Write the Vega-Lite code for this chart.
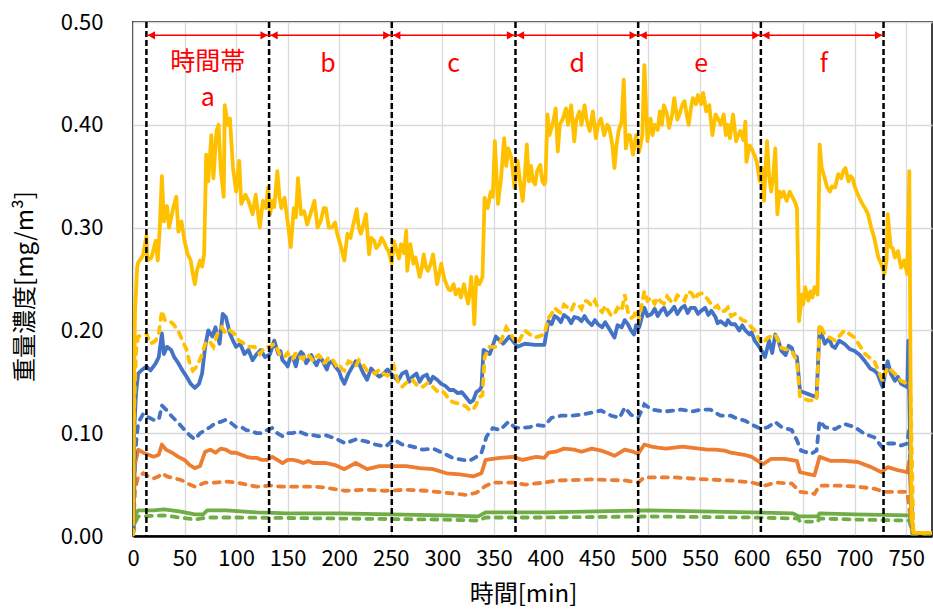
{
"$schema": "https://vega.github.io/schema/vega-lite/v6.json",
"width": 799, "height": 514,
"autosize": {"type": "none"},
"padding": {"left": 133, "top": 22, "right": 1, "bottom": 77},
"background": "white",
"config": {
  "view": {"stroke": "#404040", "strokeWidth": 2},
  "font": "Noto Sans CJK JP",
  "axis": {"labelFont": "Noto Sans CJK JP", "titleFont": "Noto Sans CJK JP", "labelColor": "#000000", "titleColor": "#000000", "gridColor": "#D9D9D9", "gridWidth": 1.3, "ticks": false, "domain": false}
},
"datasets": {
"bounds": [{"t": 13}, {"t": 132}, {"t": 251}, {"t": 371}, {"t": 490}, {"t": 609}, {"t": 728}],
"arrows": [{"x1": 13, "x2": 132, "y": 0.487}, {"x1": 132, "x2": 251, "y": 0.487}, {"x1": 251, "x2": 371, "y": 0.487}, {"x1": 371, "x2": 490, "y": 0.487}, {"x1": 490, "x2": 609, "y": 0.487}, {"x1": 609, "x2": 728, "y": 0.487}],
"labels": [{"lab": "時間帯", "t": 72.5, "y": 0.453}, {"lab": "a", "t": 72.5, "y": 0.418}, {"lab": "b", "t": 189, "y": 0.451}, {"lab": "c", "t": 311, "y": 0.451}, {"lab": "d", "t": 431, "y": 0.451}, {"lab": "e", "t": 551, "y": 0.451}, {"lab": "f", "t": 670, "y": 0.451}],
"lines": [
{"s":"ys","t":0,"v":0.01},{"s":"ys","t":1,"v":0.15},{"s":"ys","t":2,"v":0.22},{"s":"ys","t":4,"v":0.261},{"s":"ys","t":5,"v":0.266},{"s":"ys","t":8,"v":0.27},{"s":"ys","t":10,"v":0.274},{"s":"ys","t":13,"v":0.292},{"s":"ys","t":14,"v":0.268},{"s":"ys","t":18,"v":0.271},{"s":"ys","t":22,"v":0.287},{"s":"ys","t":24,"v":0.268},{"s":"ys","t":26,"v":0.3},{"s":"ys","t":28,"v":0.35},{"s":"ys","t":30,"v":0.306},{"s":"ys","t":33,"v":0.321},{"s":"ys","t":35,"v":0.3},{"s":"ys","t":39,"v":0.319},{"s":"ys","t":42,"v":0.33},{"s":"ys","t":44,"v":0.296},{"s":"ys","t":47,"v":0.306},{"s":"ys","t":50,"v":0.287},{"s":"ys","t":53,"v":0.274},{"s":"ys","t":56,"v":0.268},{"s":"ys","t":58,"v":0.255},{"s":"ys","t":60,"v":0.245},{"s":"ys","t":62,"v":0.258},{"s":"ys","t":65,"v":0.268},{"s":"ys","t":67,"v":0.262},{"s":"ys","t":69,"v":0.274},{"s":"ys","t":71,"v":0.371},{"s":"ys","t":73,"v":0.345},{"s":"ys","t":76,"v":0.39},{"s":"ys","t":78,"v":0.348},{"s":"ys","t":81,"v":0.394},{"s":"ys","t":83,"v":0.4},{"s":"ys","t":85,"v":0.358},{"s":"ys","t":88,"v":0.33},{"s":"ys","t":89,"v":0.419},{"s":"ys","t":92,"v":0.4},{"s":"ys","t":94,"v":0.406},{"s":"ys","t":97,"v":0.358},{"s":"ys","t":100,"v":0.335},{"s":"ys","t":103,"v":0.365},{"s":"ys","t":105,"v":0.323},{"s":"ys","t":109,"v":0.332},{"s":"ys","t":112,"v":0.326},{"s":"ys","t":116,"v":0.313},{"s":"ys","t":119,"v":0.332},{"s":"ys","t":123,"v":0.3},{"s":"ys","t":126,"v":0.326},{"s":"ys","t":129,"v":0.319},{"s":"ys","t":131,"v":0.339},{"s":"ys","t":133,"v":0.313},{"s":"ys","t":135,"v":0.326},{"s":"ys","t":137,"v":0.32},{"s":"ys","t":140,"v":0.355},{"s":"ys","t":142,"v":0.33},{"s":"ys","t":144,"v":0.319},{"s":"ys","t":147,"v":0.329},{"s":"ys","t":150,"v":0.306},{"s":"ys","t":153,"v":0.281},{"s":"ys","t":156,"v":0.319},{"s":"ys","t":158,"v":0.31},{"s":"ys","t":160,"v":0.348},{"s":"ys","t":163,"v":0.313},{"s":"ys","t":166,"v":0.316},{"s":"ys","t":169,"v":0.303},{"s":"ys","t":173,"v":0.316},{"s":"ys","t":176,"v":0.326},{"s":"ys","t":179,"v":0.3},{"s":"ys","t":182,"v":0.306},{"s":"ys","t":185,"v":0.319},{"s":"ys","t":187,"v":0.319},{"s":"ys","t":190,"v":0.3},{"s":"ys","t":193,"v":0.3},{"s":"ys","t":196,"v":0.305},{"s":"ys","t":198,"v":0.294},{"s":"ys","t":201,"v":0.284},{"s":"ys","t":205,"v":0.268},{"s":"ys","t":208,"v":0.294},{"s":"ys","t":211,"v":0.29},{"s":"ys","t":213,"v":0.3},{"s":"ys","t":217,"v":0.318},{"s":"ys","t":219,"v":0.3},{"s":"ys","t":221,"v":0.294},{"s":"ys","t":224,"v":0.305},{"s":"ys","t":226,"v":0.313},{"s":"ys","t":229,"v":0.274},{"s":"ys","t":231,"v":0.29},{"s":"ys","t":234,"v":0.287},{"s":"ys","t":236,"v":0.28},{"s":"ys","t":239,"v":0.284},{"s":"ys","t":241,"v":0.29},{"s":"ys","t":243,"v":0.287},{"s":"ys","t":246,"v":0.28},{"s":"ys","t":248,"v":0.277},{"s":"ys","t":251,"v":0.265},{"s":"ys","t":253,"v":0.287},{"s":"ys","t":256,"v":0.277},{"s":"ys","t":258,"v":0.27},{"s":"ys","t":260,"v":0.284},{"s":"ys","t":263,"v":0.275},{"s":"ys","t":265,"v":0.297},{"s":"ys","t":266,"v":0.258},{"s":"ys","t":269,"v":0.284},{"s":"ys","t":272,"v":0.265},{"s":"ys","t":274,"v":0.271},{"s":"ys","t":276,"v":0.262},{"s":"ys","t":278,"v":0.252},{"s":"ys","t":280,"v":0.26},{"s":"ys","t":282,"v":0.274},{"s":"ys","t":284,"v":0.262},{"s":"ys","t":286,"v":0.258},{"s":"ys","t":289,"v":0.265},{"s":"ys","t":291,"v":0.274},{"s":"ys","t":293,"v":0.26},{"s":"ys","t":295,"v":0.245},{"s":"ys","t":297,"v":0.255},{"s":"ys","t":299,"v":0.265},{"s":"ys","t":302,"v":0.25},{"s":"ys","t":304,"v":0.245},{"s":"ys","t":306,"v":0.24},{"s":"ys","t":308,"v":0.239},{"s":"ys","t":311,"v":0.245},{"s":"ys","t":313,"v":0.235},{"s":"ys","t":316,"v":0.24},{"s":"ys","t":318,"v":0.232},{"s":"ys","t":320,"v":0.24},{"s":"ys","t":321,"v":0.245},{"s":"ys","t":323,"v":0.235},{"s":"ys","t":325,"v":0.226},{"s":"ys","t":327,"v":0.24},{"s":"ys","t":328,"v":0.252},{"s":"ys","t":330,"v":0.23},{"s":"ys","t":331,"v":0.206},{"s":"ys","t":333,"v":0.252},{"s":"ys","t":336,"v":0.245},{"s":"ys","t":339,"v":0.252},{"s":"ys","t":341,"v":0.329},{"s":"ys","t":344,"v":0.319},{"s":"ys","t":347,"v":0.335},{"s":"ys","t":349,"v":0.33},{"s":"ys","t":351,"v":0.384},{"s":"ys","t":354,"v":0.323},{"s":"ys","t":357,"v":0.348},{"s":"ys","t":360,"v":0.387},{"s":"ys","t":362,"v":0.36},{"s":"ys","t":364,"v":0.377},{"s":"ys","t":367,"v":0.368},{"s":"ys","t":370,"v":0.339},{"s":"ys","t":373,"v":0.365},{"s":"ys","t":376,"v":0.34},{"s":"ys","t":378,"v":0.326},{"s":"ys","t":380,"v":0.35},{"s":"ys","t":382,"v":0.381},{"s":"ys","t":384,"v":0.345},{"s":"ys","t":386,"v":0.36},{"s":"ys","t":388,"v":0.345},{"s":"ys","t":390,"v":0.342},{"s":"ys","t":392,"v":0.355},{"s":"ys","t":395,"v":0.361},{"s":"ys","t":397,"v":0.345},{"s":"ys","t":399,"v":0.342},{"s":"ys","t":400,"v":0.345},{"s":"ys","t":402,"v":0.41},{"s":"ys","t":404,"v":0.39},{"s":"ys","t":406,"v":0.397},{"s":"ys","t":408,"v":0.405},{"s":"ys","t":410,"v":0.416},{"s":"ys","t":412,"v":0.374},{"s":"ys","t":414,"v":0.4},{"s":"ys","t":417,"v":0.406},{"s":"ys","t":420,"v":0.416},{"s":"ys","t":422,"v":0.4},{"s":"ys","t":425,"v":0.419},{"s":"ys","t":428,"v":0.384},{"s":"ys","t":430,"v":0.405},{"s":"ys","t":433,"v":0.413},{"s":"ys","t":435,"v":0.4},{"s":"ys","t":438,"v":0.419},{"s":"ys","t":440,"v":0.405},{"s":"ys","t":443,"v":0.394},{"s":"ys","t":446,"v":0.413},{"s":"ys","t":449,"v":0.387},{"s":"ys","t":451,"v":0.4},{"s":"ys","t":454,"v":0.406},{"s":"ys","t":457,"v":0.39},{"s":"ys","t":460,"v":0.4},{"s":"ys","t":462,"v":0.397},{"s":"ys","t":465,"v":0.38},{"s":"ys","t":467,"v":0.358},{"s":"ys","t":469,"v":0.38},{"s":"ys","t":471,"v":0.394},{"s":"ys","t":474,"v":0.403},{"s":"ys","t":476,"v":0.444},{"s":"ys","t":478,"v":0.377},{"s":"ys","t":480,"v":0.39},{"s":"ys","t":482,"v":0.39},{"s":"ys","t":485,"v":0.371},{"s":"ys","t":488,"v":0.39},{"s":"ys","t":491,"v":0.374},{"s":"ys","t":494,"v":0.39},{"s":"ys","t":496,"v":0.458},{"s":"ys","t":499,"v":0.384},{"s":"ys","t":502,"v":0.406},{"s":"ys","t":504,"v":0.39},{"s":"ys","t":506,"v":0.4},{"s":"ys","t":509,"v":0.395},{"s":"ys","t":511,"v":0.413},{"s":"ys","t":513,"v":0.4},{"s":"ys","t":515,"v":0.419},{"s":"ys","t":518,"v":0.41},{"s":"ys","t":520,"v":0.397},{"s":"ys","t":523,"v":0.41},{"s":"ys","t":525,"v":0.426},{"s":"ys","t":528,"v":0.405},{"s":"ys","t":530,"v":0.41},{"s":"ys","t":533,"v":0.42},{"s":"ys","t":535,"v":0.423},{"s":"ys","t":537,"v":0.41},{"s":"ys","t":539,"v":0.4},{"s":"ys","t":541,"v":0.415},{"s":"ys","t":543,"v":0.426},{"s":"ys","t":546,"v":0.42},{"s":"ys","t":548,"v":0.429},{"s":"ys","t":551,"v":0.42},{"s":"ys","t":553,"v":0.431},{"s":"ys","t":556,"v":0.413},{"s":"ys","t":559,"v":0.419},{"s":"ys","t":562,"v":0.39},{"s":"ys","t":565,"v":0.41},{"s":"ys","t":568,"v":0.405},{"s":"ys","t":570,"v":0.4},{"s":"ys","t":573,"v":0.41},{"s":"ys","t":575,"v":0.39},{"s":"ys","t":577,"v":0.4},{"s":"ys","t":579,"v":0.387},{"s":"ys","t":582,"v":0.41},{"s":"ys","t":585,"v":0.384},{"s":"ys","t":587,"v":0.39},{"s":"ys","t":589,"v":0.394},{"s":"ys","t":592,"v":0.385},{"s":"ys","t":594,"v":0.403},{"s":"ys","t":595,"v":0.364},{"s":"ys","t":598,"v":0.38},{"s":"ys","t":600,"v":0.377},{"s":"ys","t":603,"v":0.37},{"s":"ys","t":605,"v":0.364},{"s":"ys","t":608,"v":0.345},{"s":"ys","t":610,"v":0.358},{"s":"ys","t":612,"v":0.326},{"s":"ys","t":615,"v":0.384},{"s":"ys","t":617,"v":0.35},{"s":"ys","t":619,"v":0.335},{"s":"ys","t":621,"v":0.35},{"s":"ys","t":623,"v":0.377},{"s":"ys","t":625,"v":0.313},{"s":"ys","t":627,"v":0.335},{"s":"ys","t":629,"v":0.33},{"s":"ys","t":631,"v":0.335},{"s":"ys","t":634,"v":0.326},{"s":"ys","t":637,"v":0.335},{"s":"ys","t":640,"v":0.329},{"s":"ys","t":642,"v":0.325},{"s":"ys","t":644,"v":0.319},{"s":"ys","t":646,"v":0.209},{"s":"ys","t":649,"v":0.235},{"s":"ys","t":650,"v":0.225},{"s":"ys","t":652,"v":0.242},{"s":"ys","t":655,"v":0.229},{"s":"ys","t":657,"v":0.238},{"s":"ys","t":659,"v":0.232},{"s":"ys","t":661,"v":0.242},{"s":"ys","t":664,"v":0.235},{"s":"ys","t":666,"v":0.381},{"s":"ys","t":668,"v":0.358},{"s":"ys","t":671,"v":0.348},{"s":"ys","t":673,"v":0.34},{"s":"ys","t":676,"v":0.335},{"s":"ys","t":678,"v":0.34},{"s":"ys","t":681,"v":0.339},{"s":"ys","t":684,"v":0.352},{"s":"ys","t":687,"v":0.348},{"s":"ys","t":689,"v":0.355},{"s":"ys","t":691,"v":0.358},{"s":"ys","t":694,"v":0.345},{"s":"ys","t":696,"v":0.35},{"s":"ys","t":698,"v":0.348},{"s":"ys","t":700,"v":0.34},{"s":"ys","t":702,"v":0.335},{"s":"ys","t":704,"v":0.33},{"s":"ys","t":706,"v":0.326},{"s":"ys","t":708,"v":0.322},{"s":"ys","t":710,"v":0.319},{"s":"ys","t":713,"v":0.313},{"s":"ys","t":716,"v":0.3},{"s":"ys","t":719,"v":0.29},{"s":"ys","t":721,"v":0.28},{"s":"ys","t":723,"v":0.271},{"s":"ys","t":726,"v":0.264},{"s":"ys","t":729,"v":0.255},{"s":"ys","t":731,"v":0.27},{"s":"ys","t":732,"v":0.313},{"s":"ys","t":735,"v":0.281},{"s":"ys","t":737,"v":0.28},{"s":"ys","t":739,"v":0.271},{"s":"ys","t":742,"v":0.277},{"s":"ys","t":745,"v":0.261},{"s":"ys","t":748,"v":0.268},{"s":"ys","t":751,"v":0.255},{"s":"ys","t":753,"v":0.355},{"s":"ys","t":755,"v":0.02},{"s":"ys","t":757,"v":0.003},{"s":"ys","t":775,"v":0.003},
{"s":"yd","t":0,"v":0.0},{"s":"yd","t":1,"v":0.12},{"s":"yd","t":3,"v":0.18},{"s":"yd","t":5,"v":0.194},{"s":"yd","t":8,"v":0.195},{"s":"yd","t":13,"v":0.197},{"s":"yd","t":17,"v":0.187},{"s":"yd","t":22,"v":0.19},{"s":"yd","t":25,"v":0.197},{"s":"yd","t":28,"v":0.219},{"s":"yd","t":31,"v":0.21},{"s":"yd","t":35,"v":0.21},{"s":"yd","t":40,"v":0.205},{"s":"yd","t":45,"v":0.197},{"s":"yd","t":48,"v":0.19},{"s":"yd","t":52,"v":0.181},{"s":"yd","t":55,"v":0.168},{"s":"yd","t":58,"v":0.161},{"s":"yd","t":62,"v":0.165},{"s":"yd","t":66,"v":0.174},{"s":"yd","t":70,"v":0.187},{"s":"yd","t":74,"v":0.19},{"s":"yd","t":78,"v":0.184},{"s":"yd","t":82,"v":0.197},{"s":"yd","t":86,"v":0.203},{"s":"yd","t":90,"v":0.197},{"s":"yd","t":94,"v":0.2},{"s":"yd","t":98,"v":0.197},{"s":"yd","t":103,"v":0.19},{"s":"yd","t":108,"v":0.187},{"s":"yd","t":113,"v":0.184},{"s":"yd","t":118,"v":0.184},{"s":"yd","t":123,"v":0.177},{"s":"yd","t":128,"v":0.184},{"s":"yd","t":133,"v":0.184},{"s":"yd","t":137,"v":0.187},{"s":"yd","t":142,"v":0.177},{"s":"yd","t":147,"v":0.174},{"s":"yd","t":152,"v":0.174},{"s":"yd","t":157,"v":0.177},{"s":"yd","t":162,"v":0.174},{"s":"yd","t":167,"v":0.177},{"s":"yd","t":172,"v":0.174},{"s":"yd","t":177,"v":0.174},{"s":"yd","t":182,"v":0.174},{"s":"yd","t":188,"v":0.171},{"s":"yd","t":194,"v":0.171},{"s":"yd","t":200,"v":0.168},{"s":"yd","t":205,"v":0.161},{"s":"yd","t":213,"v":0.168},{"s":"yd","t":219,"v":0.171},{"s":"yd","t":227,"v":0.161},{"s":"yd","t":235,"v":0.158},{"s":"yd","t":243,"v":0.158},{"s":"yd","t":253,"v":0.165},{"s":"yd","t":257,"v":0.15},{"s":"yd","t":261,"v":0.145},{"s":"yd","t":271,"v":0.152},{"s":"yd","t":281,"v":0.145},{"s":"yd","t":291,"v":0.145},{"s":"yd","t":299,"v":0.142},{"s":"yd","t":307,"v":0.132},{"s":"yd","t":315,"v":0.129},{"s":"yd","t":323,"v":0.126},{"s":"yd","t":330,"v":0.123},{"s":"yd","t":336,"v":0.135},{"s":"yd","t":339,"v":0.137},{"s":"yd","t":341,"v":0.174},{"s":"yd","t":346,"v":0.184},{"s":"yd","t":352,"v":0.184},{"s":"yd","t":357,"v":0.19},{"s":"yd","t":362,"v":0.203},{"s":"yd","t":368,"v":0.194},{"s":"yd","t":373,"v":0.187},{"s":"yd","t":380,"v":0.2},{"s":"yd","t":385,"v":0.196},{"s":"yd","t":390,"v":0.193},{"s":"yd","t":399,"v":0.196},{"s":"yd","t":403,"v":0.212},{"s":"yd","t":412,"v":0.219},{"s":"yd","t":422,"v":0.222},{"s":"yd","t":432,"v":0.225},{"s":"yd","t":441,"v":0.228},{"s":"yd","t":451,"v":0.222},{"s":"yd","t":461,"v":0.219},{"s":"yd","t":467,"v":0.216},{"s":"yd","t":474,"v":0.219},{"s":"yd","t":477,"v":0.235},{"s":"yd","t":483,"v":0.212},{"s":"yd","t":491,"v":0.212},{"s":"yd","t":496,"v":0.238},{"s":"yd","t":503,"v":0.232},{"s":"yd","t":512,"v":0.228},{"s":"yd","t":522,"v":0.228},{"s":"yd","t":532,"v":0.232},{"s":"yd","t":538,"v":0.238},{"s":"yd","t":548,"v":0.235},{"s":"yd","t":556,"v":0.232},{"s":"yd","t":564,"v":0.222},{"s":"yd","t":574,"v":0.219},{"s":"yd","t":584,"v":0.216},{"s":"yd","t":594,"v":0.209},{"s":"yd","t":603,"v":0.2},{"s":"yd","t":610,"v":0.187},{"s":"yd","t":616,"v":0.193},{"s":"yd","t":623,"v":0.196},{"s":"yd","t":629,"v":0.183},{"s":"yd","t":639,"v":0.18},{"s":"yd","t":644,"v":0.17},{"s":"yd","t":647,"v":0.135},{"s":"yd","t":655,"v":0.132},{"s":"yd","t":663,"v":0.132},{"s":"yd","t":666,"v":0.206},{"s":"yd","t":671,"v":0.196},{"s":"yd","t":681,"v":0.19},{"s":"yd","t":690,"v":0.2},{"s":"yd","t":700,"v":0.193},{"s":"yd","t":710,"v":0.177},{"s":"yd","t":719,"v":0.17},{"s":"yd","t":727,"v":0.151},{"s":"yd","t":732,"v":0.164},{"s":"yd","t":739,"v":0.158},{"s":"yd","t":745,"v":0.151},{"s":"yd","t":751,"v":0.148},{"s":"yd","t":754,"v":0.15},{"s":"yd","t":757,"v":0.003},{"s":"yd","t":775,"v":0.003},
{"s":"yd","t":140,"v":0.182},{"s":"yd","t":145,"v":0.176},{"s":"yd","t":150,"v":0.178},{"s":"yd","t":155,"v":0.172},{"s":"yd","t":160,"v":0.178},{"s":"yd","t":165,"v":0.172},{"s":"yd","t":170,"v":0.176},{"s":"yd","t":175,"v":0.17},{"s":"yd","t":180,"v":0.176},{"s":"yd","t":185,"v":0.168},{"s":"yd","t":190,"v":0.174},{"s":"yd","t":197,"v":0.166},{"s":"yd","t":202,"v":0.163},{"s":"yd","t":209,"v":0.17},{"s":"yd","t":216,"v":0.165},{"s":"yd","t":223,"v":0.167},{"s":"yd","t":231,"v":0.16},{"s":"yd","t":239,"v":0.162},{"s":"yd","t":247,"v":0.156},{"s":"yd","t":250,"v":0.16},{"s":"yd","t":259,"v":0.148},{"s":"yd","t":266,"v":0.15},{"s":"yd","t":276,"v":0.146},{"s":"yd","t":286,"v":0.149},{"s":"yd","t":295,"v":0.141},{"s":"yd","t":303,"v":0.138},{"s":"yd","t":311,"v":0.13},{"s":"yd","t":319,"v":0.128},{"s":"yd","t":327,"v":0.122},{"s":"yd","t":333,"v":0.128},
{"s":"yd","t":406,"v":0.216},{"s":"yd","t":409,"v":0.222},{"s":"yd","t":415,"v":0.217},{"s":"yd","t":418,"v":0.225},{"s":"yd","t":425,"v":0.219},{"s":"yd","t":428,"v":0.226},{"s":"yd","t":435,"v":0.221},{"s":"yd","t":438,"v":0.229},{"s":"yd","t":445,"v":0.224},{"s":"yd","t":448,"v":0.229},{"s":"yd","t":455,"v":0.218},{"s":"yd","t":458,"v":0.224},{"s":"yd","t":464,"v":0.214},{"s":"yd","t":470,"v":0.222},{"s":"yd","t":480,"v":0.218},{"s":"yd","t":486,"v":0.214},{"s":"yd","t":488,"v":0.22},{"s":"yd","t":499,"v":0.229},{"s":"yd","t":506,"v":0.226},{"s":"yd","t":509,"v":0.232},{"s":"yd","t":515,"v":0.226},{"s":"yd","t":518,"v":0.233},{"s":"yd","t":525,"v":0.227},{"s":"yd","t":528,"v":0.234},{"s":"yd","t":535,"v":0.229},{"s":"yd","t":542,"v":0.236},{"s":"yd","t":545,"v":0.23},{"s":"yd","t":552,"v":0.236},{"s":"yd","t":559,"v":0.228},{"s":"yd","t":561,"v":0.225},{"s":"yd","t":567,"v":0.224},{"s":"yd","t":570,"v":0.218},{"s":"yd","t":577,"v":0.222},{"s":"yd","t":580,"v":0.214},{"s":"yd","t":588,"v":0.213},{"s":"yd","t":591,"v":0.21},{"s":"yd","t":598,"v":0.205},{"s":"yd","t":600,"v":0.203},{"s":"yd","t":606,"v":0.194},
{"s":"bs","t":0,"v":0.0},{"s":"bs","t":1,"v":0.1},{"s":"bs","t":3,"v":0.14},{"s":"bs","t":5,"v":0.158},{"s":"bs","t":8,"v":0.161},{"s":"bs","t":13,"v":0.165},{"s":"bs","t":17,"v":0.161},{"s":"bs","t":22,"v":0.168},{"s":"bs","t":25,"v":0.174},{"s":"bs","t":28,"v":0.197},{"s":"bs","t":30,"v":0.177},{"s":"bs","t":33,"v":0.184},{"s":"bs","t":37,"v":0.181},{"s":"bs","t":40,"v":0.174},{"s":"bs","t":44,"v":0.168},{"s":"bs","t":48,"v":0.161},{"s":"bs","t":52,"v":0.155},{"s":"bs","t":56,"v":0.148},{"s":"bs","t":60,"v":0.144},{"s":"bs","t":64,"v":0.148},{"s":"bs","t":67,"v":0.158},{"s":"bs","t":70,"v":0.184},{"s":"bs","t":73,"v":0.2},{"s":"bs","t":77,"v":0.194},{"s":"bs","t":80,"v":0.203},{"s":"bs","t":84,"v":0.187},{"s":"bs","t":87,"v":0.216},{"s":"bs","t":90,"v":0.213},{"s":"bs","t":94,"v":0.197},{"s":"bs","t":97,"v":0.19},{"s":"bs","t":100,"v":0.184},{"s":"bs","t":104,"v":0.187},{"s":"bs","t":108,"v":0.177},{"s":"bs","t":112,"v":0.181},{"s":"bs","t":116,"v":0.171},{"s":"bs","t":120,"v":0.177},{"s":"bs","t":124,"v":0.181},{"s":"bs","t":128,"v":0.174},{"s":"bs","t":133,"v":0.177},{"s":"bs","t":137,"v":0.19},{"s":"bs","t":141,"v":0.177},{"s":"bs","t":145,"v":0.171},{"s":"bs","t":150,"v":0.165},{"s":"bs","t":155,"v":0.174},{"s":"bs","t":160,"v":0.174},{"s":"bs","t":165,"v":0.177},{"s":"bs","t":170,"v":0.171},{"s":"bs","t":175,"v":0.171},{"s":"bs","t":180,"v":0.171},{"s":"bs","t":185,"v":0.168},{"s":"bs","t":190,"v":0.168},{"s":"bs","t":196,"v":0.165},{"s":"bs","t":205,"v":0.148},{"s":"bs","t":213,"v":0.165},{"s":"bs","t":219,"v":0.168},{"s":"bs","t":227,"v":0.152},{"s":"bs","t":235,"v":0.158},{"s":"bs","t":243,"v":0.158},{"s":"bs","t":253,"v":0.155},{"s":"bs","t":261,"v":0.158},{"s":"bs","t":271,"v":0.155},{"s":"bs","t":281,"v":0.155},{"s":"bs","t":291,"v":0.155},{"s":"bs","t":299,"v":0.148},{"s":"bs","t":307,"v":0.142},{"s":"bs","t":315,"v":0.139},{"s":"bs","t":323,"v":0.135},{"s":"bs","t":330,"v":0.132},{"s":"bs","t":336,"v":0.142},{"s":"bs","t":338,"v":0.145},{"s":"bs","t":340,"v":0.181},{"s":"bs","t":346,"v":0.177},{"s":"bs","t":352,"v":0.194},{"s":"bs","t":359,"v":0.187},{"s":"bs","t":365,"v":0.194},{"s":"bs","t":373,"v":0.184},{"s":"bs","t":380,"v":0.187},{"s":"bs","t":390,"v":0.186},{"s":"bs","t":399,"v":0.186},{"s":"bs","t":403,"v":0.209},{"s":"bs","t":412,"v":0.212},{"s":"bs","t":422,"v":0.212},{"s":"bs","t":432,"v":0.212},{"s":"bs","t":441,"v":0.209},{"s":"bs","t":451,"v":0.206},{"s":"bs","t":461,"v":0.203},{"s":"bs","t":467,"v":0.193},{"s":"bs","t":474,"v":0.203},{"s":"bs","t":480,"v":0.206},{"s":"bs","t":486,"v":0.196},{"s":"bs","t":491,"v":0.203},{"s":"bs","t":496,"v":0.222},{"s":"bs","t":503,"v":0.216},{"s":"bs","t":512,"v":0.219},{"s":"bs","t":522,"v":0.219},{"s":"bs","t":532,"v":0.222},{"s":"bs","t":541,"v":0.222},{"s":"bs","t":551,"v":0.219},{"s":"bs","t":561,"v":0.219},{"s":"bs","t":570,"v":0.209},{"s":"bs","t":580,"v":0.206},{"s":"bs","t":584,"v":0.206},{"s":"bs","t":594,"v":0.2},{"s":"bs","t":603,"v":0.19},{"s":"bs","t":610,"v":0.18},{"s":"bs","t":613,"v":0.174},{"s":"bs","t":623,"v":0.196},{"s":"bs","t":629,"v":0.18},{"s":"bs","t":639,"v":0.183},{"s":"bs","t":644,"v":0.174},{"s":"bs","t":647,"v":0.141},{"s":"bs","t":655,"v":0.138},{"s":"bs","t":663,"v":0.135},{"s":"bs","t":666,"v":0.203},{"s":"bs","t":671,"v":0.187},{"s":"bs","t":681,"v":0.183},{"s":"bs","t":690,"v":0.187},{"s":"bs","t":700,"v":0.18},{"s":"bs","t":710,"v":0.17},{"s":"bs","t":719,"v":0.161},{"s":"bs","t":727,"v":0.145},{"s":"bs","t":732,"v":0.17},{"s":"bs","t":739,"v":0.151},{"s":"bs","t":745,"v":0.148},{"s":"bs","t":751,"v":0.145},{"s":"bs","t":752,"v":0.19},{"s":"bs","t":755,"v":0.022},{"s":"bs","t":757,"v":0.003},{"s":"bs","t":775,"v":0.003},
{"s":"bs","t":143,"v":0.18},{"s":"bs","t":148,"v":0.168},{"s":"bs","t":152,"v":0.172},{"s":"bs","t":158,"v":0.165},{"s":"bs","t":163,"v":0.179},{"s":"bs","t":168,"v":0.168},{"s":"bs","t":173,"v":0.176},{"s":"bs","t":178,"v":0.166},{"s":"bs","t":183,"v":0.172},{"s":"bs","t":188,"v":0.162},{"s":"bs","t":193,"v":0.17},{"s":"bs","t":200,"v":0.16},{"s":"bs","t":202,"v":0.154},{"s":"bs","t":209,"v":0.158},{"s":"bs","t":216,"v":0.17},{"s":"bs","t":223,"v":0.159},{"s":"bs","t":231,"v":0.163},{"s":"bs","t":239,"v":0.155},{"s":"bs","t":247,"v":0.162},{"s":"bs","t":250,"v":0.158},{"s":"bs","t":257,"v":0.151},{"s":"bs","t":265,"v":0.16},{"s":"bs","t":268,"v":0.15},{"s":"bs","t":275,"v":0.158},{"s":"bs","t":278,"v":0.15},{"s":"bs","t":285,"v":0.157},{"s":"bs","t":288,"v":0.149},{"s":"bs","t":295,"v":0.152},{"s":"bs","t":303,"v":0.146},{"s":"bs","t":311,"v":0.142},{"s":"bs","t":319,"v":0.14},{"s":"bs","t":327,"v":0.13},{"s":"bs","t":333,"v":0.14},
{"s":"bs","t":406,"v":0.206},{"s":"bs","t":409,"v":0.214},{"s":"bs","t":415,"v":0.208},{"s":"bs","t":418,"v":0.215},{"s":"bs","t":425,"v":0.207},{"s":"bs","t":428,"v":0.213},{"s":"bs","t":435,"v":0.209},{"s":"bs","t":438,"v":0.214},{"s":"bs","t":445,"v":0.205},{"s":"bs","t":448,"v":0.21},{"s":"bs","t":455,"v":0.203},{"s":"bs","t":458,"v":0.208},{"s":"bs","t":464,"v":0.198},{"s":"bs","t":470,"v":0.205},{"s":"bs","t":477,"v":0.21},{"s":"bs","t":483,"v":0.2},{"s":"bs","t":488,"v":0.205},{"s":"bs","t":499,"v":0.214},{"s":"bs","t":506,"v":0.221},{"s":"bs","t":509,"v":0.214},{"s":"bs","t":515,"v":0.222},{"s":"bs","t":518,"v":0.215},{"s":"bs","t":525,"v":0.223},{"s":"bs","t":528,"v":0.216},{"s":"bs","t":535,"v":0.224},{"s":"bs","t":538,"v":0.217},{"s":"bs","t":545,"v":0.222},{"s":"bs","t":548,"v":0.216},{"s":"bs","t":555,"v":0.222},{"s":"bs","t":558,"v":0.215},{"s":"bs","t":565,"v":0.213},{"s":"bs","t":567,"v":0.207},{"s":"bs","t":575,"v":0.205},{"s":"bs","t":577,"v":0.21},{"s":"bs","t":588,"v":0.2},{"s":"bs","t":591,"v":0.205},{"s":"bs","t":598,"v":0.196},{"s":"bs","t":600,"v":0.198},{"s":"bs","t":606,"v":0.186},
{"s":"bs","t":617,"v":0.19},{"s":"bs","t":620,"v":0.178},{"s":"bs","t":626,"v":0.19},{"s":"bs","t":633,"v":0.176},{"s":"bs","t":636,"v":0.185},{"s":"bs","t":641,"v":0.176},{"s":"bs","t":675,"v":0.192},{"s":"bs","t":678,"v":0.185},{"s":"bs","t":685,"v":0.19},{"s":"bs","t":695,"v":0.182},{"s":"bs","t":705,"v":0.176},{"s":"bs","t":715,"v":0.163},{"s":"bs","t":722,"v":0.158},{"s":"bs","t":735,"v":0.158},{"s":"bs","t":742,"v":0.155},
{"s":"bd","t":0,"v":0.0},{"s":"bd","t":2,"v":0.08},{"s":"bd","t":5,"v":0.11},{"s":"bd","t":10,"v":0.119},{"s":"bd","t":14,"v":0.116},{"s":"bd","t":20,"v":0.113},{"s":"bd","t":25,"v":0.113},{"s":"bd","t":28,"v":0.127},{"s":"bd","t":32,"v":0.123},{"s":"bd","t":38,"v":0.116},{"s":"bd","t":44,"v":0.11},{"s":"bd","t":50,"v":0.103},{"s":"bd","t":55,"v":0.098},{"s":"bd","t":60,"v":0.094},{"s":"bd","t":65,"v":0.1},{"s":"bd","t":70,"v":0.103},{"s":"bd","t":75,"v":0.106},{"s":"bd","t":80,"v":0.11},{"s":"bd","t":85,"v":0.111},{"s":"bd","t":90,"v":0.113},{"s":"bd","t":95,"v":0.11},{"s":"bd","t":100,"v":0.106},{"s":"bd","t":105,"v":0.106},{"s":"bd","t":110,"v":0.103},{"s":"bd","t":115,"v":0.102},{"s":"bd","t":120,"v":0.1},{"s":"bd","t":125,"v":0.1},{"s":"bd","t":130,"v":0.103},{"s":"bd","t":135,"v":0.105},{"s":"bd","t":140,"v":0.1},{"s":"bd","t":145,"v":0.097},{"s":"bd","t":150,"v":0.1},{"s":"bd","t":155,"v":0.1},{"s":"bd","t":160,"v":0.102},{"s":"bd","t":165,"v":0.1},{"s":"bd","t":170,"v":0.098},{"s":"bd","t":175,"v":0.098},{"s":"bd","t":180,"v":0.097},{"s":"bd","t":187,"v":0.098},{"s":"bd","t":196,"v":0.095},{"s":"bd","t":206,"v":0.09},{"s":"bd","t":216,"v":0.094},{"s":"bd","t":226,"v":0.092},{"s":"bd","t":235,"v":0.089},{"s":"bd","t":245,"v":0.087},{"s":"bd","t":253,"v":0.094},{"s":"bd","t":261,"v":0.089},{"s":"bd","t":271,"v":0.087},{"s":"bd","t":281,"v":0.084},{"s":"bd","t":291,"v":0.085},{"s":"bd","t":300,"v":0.081},{"s":"bd","t":310,"v":0.076},{"s":"bd","t":320,"v":0.074},{"s":"bd","t":326,"v":0.073},{"s":"bd","t":333,"v":0.077},{"s":"bd","t":338,"v":0.081},{"s":"bd","t":343,"v":0.097},{"s":"bd","t":349,"v":0.105},{"s":"bd","t":356,"v":0.103},{"s":"bd","t":364,"v":0.111},{"s":"bd","t":370,"v":0.106},{"s":"bd","t":375,"v":0.105},{"s":"bd","t":385,"v":0.106},{"s":"bd","t":391,"v":0.108},{"s":"bd","t":399,"v":0.107},{"s":"bd","t":406,"v":0.115},{"s":"bd","t":415,"v":0.117},{"s":"bd","t":425,"v":0.117},{"s":"bd","t":435,"v":0.118},{"s":"bd","t":445,"v":0.12},{"s":"bd","t":454,"v":0.122},{"s":"bd","t":464,"v":0.117},{"s":"bd","t":472,"v":0.115},{"s":"bd","t":477,"v":0.125},{"s":"bd","t":483,"v":0.118},{"s":"bd","t":490,"v":0.115},{"s":"bd","t":496,"v":0.128},{"s":"bd","t":503,"v":0.123},{"s":"bd","t":515,"v":0.121},{"s":"bd","t":532,"v":0.123},{"s":"bd","t":542,"v":0.121},{"s":"bd","t":551,"v":0.123},{"s":"bd","t":560,"v":0.123},{"s":"bd","t":570,"v":0.117},{"s":"bd","t":580,"v":0.117},{"s":"bd","t":584,"v":0.115},{"s":"bd","t":594,"v":0.112},{"s":"bd","t":603,"v":0.107},{"s":"bd","t":610,"v":0.104},{"s":"bd","t":616,"v":0.106},{"s":"bd","t":623,"v":0.111},{"s":"bd","t":629,"v":0.106},{"s":"bd","t":639,"v":0.103},{"s":"bd","t":644,"v":0.093},{"s":"bd","t":648,"v":0.083},{"s":"bd","t":658,"v":0.08},{"s":"bd","t":663,"v":0.083},{"s":"bd","t":666,"v":0.112},{"s":"bd","t":671,"v":0.106},{"s":"bd","t":681,"v":0.104},{"s":"bd","t":690,"v":0.109},{"s":"bd","t":700,"v":0.106},{"s":"bd","t":710,"v":0.099},{"s":"bd","t":719,"v":0.096},{"s":"bd","t":727,"v":0.086},{"s":"bd","t":732,"v":0.09},{"s":"bd","t":739,"v":0.09},{"s":"bd","t":745,"v":0.088},{"s":"bd","t":751,"v":0.09},{"s":"bd","t":753,"v":0.106},{"s":"bd","t":756,"v":0.003},{"s":"bd","t":775,"v":0.003},
{"s":"os","t":0,"v":0.0},{"s":"os","t":2,"v":0.07},{"s":"os","t":5,"v":0.084},{"s":"os","t":10,"v":0.081},{"s":"os","t":15,"v":0.079},{"s":"os","t":20,"v":0.077},{"s":"os","t":25,"v":0.079},{"s":"os","t":28,"v":0.089},{"s":"os","t":32,"v":0.084},{"s":"os","t":38,"v":0.081},{"s":"os","t":44,"v":0.077},{"s":"os","t":50,"v":0.074},{"s":"os","t":55,"v":0.069},{"s":"os","t":60,"v":0.066},{"s":"os","t":65,"v":0.068},{"s":"os","t":70,"v":0.082},{"s":"os","t":75,"v":0.084},{"s":"os","t":80,"v":0.081},{"s":"os","t":85,"v":0.085},{"s":"os","t":90,"v":0.084},{"s":"os","t":95,"v":0.081},{"s":"os","t":100,"v":0.081},{"s":"os","t":105,"v":0.079},{"s":"os","t":110,"v":0.077},{"s":"os","t":115,"v":0.076},{"s":"os","t":120,"v":0.076},{"s":"os","t":125,"v":0.074},{"s":"os","t":130,"v":0.074},{"s":"os","t":135,"v":0.077},{"s":"os","t":140,"v":0.074},{"s":"os","t":145,"v":0.071},{"s":"os","t":150,"v":0.074},{"s":"os","t":155,"v":0.074},{"s":"os","t":160,"v":0.073},{"s":"os","t":165,"v":0.071},{"s":"os","t":170,"v":0.073},{"s":"os","t":175,"v":0.071},{"s":"os","t":180,"v":0.071},{"s":"os","t":187,"v":0.071},{"s":"os","t":196,"v":0.069},{"s":"os","t":205,"v":0.065},{"s":"os","t":216,"v":0.071},{"s":"os","t":227,"v":0.065},{"s":"os","t":239,"v":0.068},{"s":"os","t":253,"v":0.068},{"s":"os","t":265,"v":0.068},{"s":"os","t":278,"v":0.066},{"s":"os","t":291,"v":0.065},{"s":"os","t":304,"v":0.061},{"s":"os","t":317,"v":0.06},{"s":"os","t":330,"v":0.058},{"s":"os","t":338,"v":0.061},{"s":"os","t":342,"v":0.074},{"s":"os","t":356,"v":0.076},{"s":"os","t":369,"v":0.077},{"s":"os","t":378,"v":0.074},{"s":"os","t":391,"v":0.077},{"s":"os","t":399,"v":0.076},{"s":"os","t":403,"v":0.081},{"s":"os","t":410,"v":0.082},{"s":"os","t":418,"v":0.085},{"s":"os","t":428,"v":0.084},{"s":"os","t":435,"v":0.082},{"s":"os","t":445,"v":0.085},{"s":"os","t":454,"v":0.083},{"s":"os","t":460,"v":0.081},{"s":"os","t":467,"v":0.078},{"s":"os","t":477,"v":0.084},{"s":"os","t":485,"v":0.082},{"s":"os","t":490,"v":0.08},{"s":"os","t":496,"v":0.089},{"s":"os","t":503,"v":0.087},{"s":"os","t":509,"v":0.086},{"s":"os","t":517,"v":0.085},{"s":"os","t":525,"v":0.086},{"s":"os","t":533,"v":0.087},{"s":"os","t":541,"v":0.086},{"s":"os","t":549,"v":0.085},{"s":"os","t":557,"v":0.084},{"s":"os","t":565,"v":0.084},{"s":"os","t":574,"v":0.083},{"s":"os","t":580,"v":0.081},{"s":"os","t":587,"v":0.08},{"s":"os","t":593,"v":0.079},{"s":"os","t":600,"v":0.077},{"s":"os","t":611,"v":0.07},{"s":"os","t":619,"v":0.075},{"s":"os","t":632,"v":0.075},{"s":"os","t":644,"v":0.073},{"s":"os","t":647,"v":0.062},{"s":"os","t":661,"v":0.059},{"s":"os","t":666,"v":0.077},{"s":"os","t":677,"v":0.073},{"s":"os","t":690,"v":0.073},{"s":"os","t":703,"v":0.072},{"s":"os","t":716,"v":0.067},{"s":"os","t":726,"v":0.062},{"s":"os","t":732,"v":0.067},{"s":"os","t":742,"v":0.064},{"s":"os","t":751,"v":0.062},{"s":"os","t":753,"v":0.073},{"s":"os","t":756,"v":0.003},{"s":"os","t":775,"v":0.003},
{"s":"od","t":0,"v":0.0},{"s":"od","t":2,"v":0.045},{"s":"od","t":5,"v":0.058},{"s":"od","t":10,"v":0.061},{"s":"od","t":15,"v":0.058},{"s":"od","t":20,"v":0.056},{"s":"od","t":25,"v":0.058},{"s":"od","t":28,"v":0.061},{"s":"od","t":33,"v":0.058},{"s":"od","t":40,"v":0.056},{"s":"od","t":45,"v":0.055},{"s":"od","t":50,"v":0.053},{"s":"od","t":55,"v":0.05},{"s":"od","t":60,"v":0.048},{"s":"od","t":65,"v":0.05},{"s":"od","t":70,"v":0.052},{"s":"od","t":80,"v":0.052},{"s":"od","t":90,"v":0.053},{"s":"od","t":100,"v":0.052},{"s":"od","t":110,"v":0.05},{"s":"od","t":120,"v":0.048},{"s":"od","t":133,"v":0.049},{"s":"od","t":145,"v":0.048},{"s":"od","t":160,"v":0.048},{"s":"od","t":175,"v":0.048},{"s":"od","t":187,"v":0.047},{"s":"od","t":206,"v":0.044},{"s":"od","t":226,"v":0.045},{"s":"od","t":245,"v":0.044},{"s":"od","t":265,"v":0.045},{"s":"od","t":284,"v":0.044},{"s":"od","t":304,"v":0.042},{"s":"od","t":323,"v":0.04},{"s":"od","t":333,"v":0.042},{"s":"od","t":341,"v":0.048},{"s":"od","t":349,"v":0.052},{"s":"od","t":369,"v":0.052},{"s":"od","t":380,"v":0.05},{"s":"od","t":399,"v":0.052},{"s":"od","t":412,"v":0.054},{"s":"od","t":445,"v":0.055},{"s":"od","t":477,"v":0.054},{"s":"od","t":490,"v":0.052},{"s":"od","t":496,"v":0.057},{"s":"od","t":525,"v":0.057},{"s":"od","t":557,"v":0.055},{"s":"od","t":580,"v":0.054},{"s":"od","t":600,"v":0.052},{"s":"od","t":613,"v":0.049},{"s":"od","t":623,"v":0.052},{"s":"od","t":639,"v":0.051},{"s":"od","t":647,"v":0.043},{"s":"od","t":661,"v":0.041},{"s":"od","t":666,"v":0.049},{"s":"od","t":684,"v":0.049},{"s":"od","t":703,"v":0.048},{"s":"od","t":719,"v":0.046},{"s":"od","t":729,"v":0.043},{"s":"od","t":751,"v":0.043},{"s":"od","t":756,"v":0.003},{"s":"od","t":775,"v":0.003},
{"s":"gs","t":0,"v":0.003},{"s":"gs","t":3,"v":0.022},{"s":"gs","t":5,"v":0.025},{"s":"gs","t":20,"v":0.025},{"s":"gs","t":30,"v":0.026},{"s":"gs","t":45,"v":0.024},{"s":"gs","t":60,"v":0.021},{"s":"gs","t":68,"v":0.021},{"s":"gs","t":72,"v":0.025},{"s":"gs","t":90,"v":0.025},{"s":"gs","t":120,"v":0.023},{"s":"gs","t":150,"v":0.022},{"s":"gs","t":200,"v":0.022},{"s":"gs","t":250,"v":0.021},{"s":"gs","t":300,"v":0.02},{"s":"gs","t":335,"v":0.019},{"s":"gs","t":342,"v":0.023},{"s":"gs","t":400,"v":0.023},{"s":"gs","t":450,"v":0.024},{"s":"gs","t":500,"v":0.025},{"s":"gs","t":550,"v":0.024},{"s":"gs","t":600,"v":0.023},{"s":"gs","t":640,"v":0.022},{"s":"gs","t":646,"v":0.019},{"s":"gs","t":664,"v":0.019},{"s":"gs","t":666,"v":0.022},{"s":"gs","t":700,"v":0.021},{"s":"gs","t":753,"v":0.02},{"s":"gs","t":756,"v":0.003},{"s":"gs","t":775,"v":0.003},
{"s":"gd","t":0,"v":0.002},{"s":"gd","t":3,"v":0.015},{"s":"gd","t":5,"v":0.019},{"s":"gd","t":30,"v":0.02},{"s":"gd","t":60,"v":0.016},{"s":"gd","t":72,"v":0.018},{"s":"gd","t":100,"v":0.018},{"s":"gd","t":200,"v":0.017},{"s":"gd","t":300,"v":0.016},{"s":"gd","t":335,"v":0.015},{"s":"gd","t":342,"v":0.018},{"s":"gd","t":400,"v":0.018},{"s":"gd","t":500,"v":0.019},{"s":"gd","t":600,"v":0.018},{"s":"gd","t":645,"v":0.017},{"s":"gd","t":647,"v":0.014},{"s":"gd","t":664,"v":0.014},{"s":"gd","t":666,"v":0.017},{"s":"gd","t":700,"v":0.016},{"s":"gd","t":753,"v":0.015},{"s":"gd","t":756,"v":0.002},{"s":"gd","t":775,"v":0.002}
]
},
"layer": [
  {"data": {"name": "lines"},
   "transform": [{"filter": "datum.s === 'gd'"}],
   "mark": {"type": "line", "color": "#70AD47", "strokeWidth": 3.8, "strokeDash": [6, 7], "strokeCap": "round", "clip": true},
   "encoding": {
    "x": {"field": "t", "type": "quantitative", "scale": {"domain": [0, 775], "nice": false, "zero": false},
          "axis": {"title": "時間[min]", "values": [0,50,100,150,200,250,300,350,400,450,500,550,600,650,700,750], "labelFontSize": 22, "labelPadding": 12, "labelFlush": false, "labelOverlap": false, "titleFontSize": 24, "titleFontWeight": "normal", "titleX": 390, "titleY": 58, "titleBaseline": "middle", "titleAlign": "center", "grid": true, "domain": true, "domainColor": "#000000", "domainWidth": 2.5}},
    "y": {"field": "v", "type": "quantitative", "scale": {"domain": [0, 0.5], "nice": false},
          "axis": {"title": "重量濃度[mg/m³]", "values": [0, 0.1, 0.2, 0.3, 0.4, 0.5], "format": ".2f", "labelFontSize": 22, "labelPadding": 30, "labelFlush": false, "labelOverlap": false, "titleFontSize": 24, "titleFontWeight": "normal", "titleAngle": -90, "titleX": -108, "titleY": 264, "titleBaseline": "middle", "titleAlign": "center", "grid": true}}
   }},
  {"data": {"name": "lines"}, "transform": [{"filter": "datum.s === 'gs'"}], "mark": {"type": "line", "color": "#70AD47", "strokeWidth": 3.8, "strokeJoin": "round", "clip": true},
   "encoding": {"x": {"field": "t", "type": "quantitative"}, "y": {"field": "v", "type": "quantitative"}}},
  {"data": {"name": "lines"}, "transform": [{"filter": "datum.s === 'od'"}], "mark": {"type": "line", "color": "#ED7D31", "strokeWidth": 3.8, "strokeDash": [6, 7], "strokeCap": "round", "clip": true},
   "encoding": {"x": {"field": "t", "type": "quantitative"}, "y": {"field": "v", "type": "quantitative"}}},
  {"data": {"name": "lines"}, "transform": [{"filter": "datum.s === 'os'"}], "mark": {"type": "line", "color": "#ED7D31", "strokeWidth": 3.8, "strokeJoin": "round", "clip": true},
   "encoding": {"x": {"field": "t", "type": "quantitative"}, "y": {"field": "v", "type": "quantitative"}}},
  {"data": {"name": "lines"}, "transform": [{"filter": "datum.s === 'bd'"}], "mark": {"type": "line", "color": "#4472C4", "strokeWidth": 3.8, "strokeDash": [6, 7], "strokeCap": "round", "clip": true},
   "encoding": {"x": {"field": "t", "type": "quantitative"}, "y": {"field": "v", "type": "quantitative"}}},
  {"data": {"name": "lines"}, "transform": [{"filter": "datum.s === 'bs'"}], "mark": {"type": "line", "color": "#4472C4", "strokeWidth": 3.8, "strokeJoin": "round", "clip": true},
   "encoding": {"x": {"field": "t", "type": "quantitative"}, "y": {"field": "v", "type": "quantitative"}}},
  {"data": {"name": "lines"}, "transform": [{"filter": "datum.s === 'yd'"}], "mark": {"type": "line", "color": "#FFC000", "strokeWidth": 3.8, "strokeDash": [6, 7], "strokeCap": "round", "clip": true},
   "encoding": {"x": {"field": "t", "type": "quantitative"}, "y": {"field": "v", "type": "quantitative"}}},
  {"data": {"name": "lines"}, "transform": [{"filter": "datum.s === 'ys'"}], "mark": {"type": "line", "color": "#FFC000", "strokeWidth": 3.8, "strokeJoin": "round", "clip": true},
   "encoding": {"x": {"field": "t", "type": "quantitative"}, "y": {"field": "v", "type": "quantitative"}}},
  {"data": {"name": "bounds"}, "mark": {"type": "rule", "color": "#000000", "strokeWidth": 2.5, "strokeDash": [6, 3]},
   "encoding": {"x": {"field": "t", "type": "quantitative"}}},
  {"data": {"name": "arrows"}, "mark": {"type": "rule", "color": "#FF0000", "strokeWidth": 1.5},
   "encoding": {"x": {"field": "x1", "type": "quantitative"}, "x2": {"field": "x2"}, "y": {"field": "y", "type": "quantitative"}}},
  {"data": {"name": "arrows"}, "mark": {"type": "point", "shape": "triangle-left", "filled": true, "color": "#FF0000", "size": 70, "opacity": 1, "xOffset": 5},
   "encoding": {"x": {"field": "x1", "type": "quantitative"}, "y": {"field": "y", "type": "quantitative"}}},
  {"data": {"name": "arrows"}, "mark": {"type": "point", "shape": "triangle-right", "filled": true, "color": "#FF0000", "size": 70, "opacity": 1, "xOffset": -5},
   "encoding": {"x": {"field": "x2", "type": "quantitative"}, "y": {"field": "y", "type": "quantitative"}}},
  {"data": {"name": "labels"}, "mark": {"type": "text", "color": "#FF0000", "font": "Noto Sans CJK JP", "fontSize": 25, "align": "center", "baseline": "alphabetic"},
   "encoding": {"x": {"field": "t", "type": "quantitative"}, "y": {"field": "y", "type": "quantitative"}, "text": {"field": "lab"}}}
]
}
